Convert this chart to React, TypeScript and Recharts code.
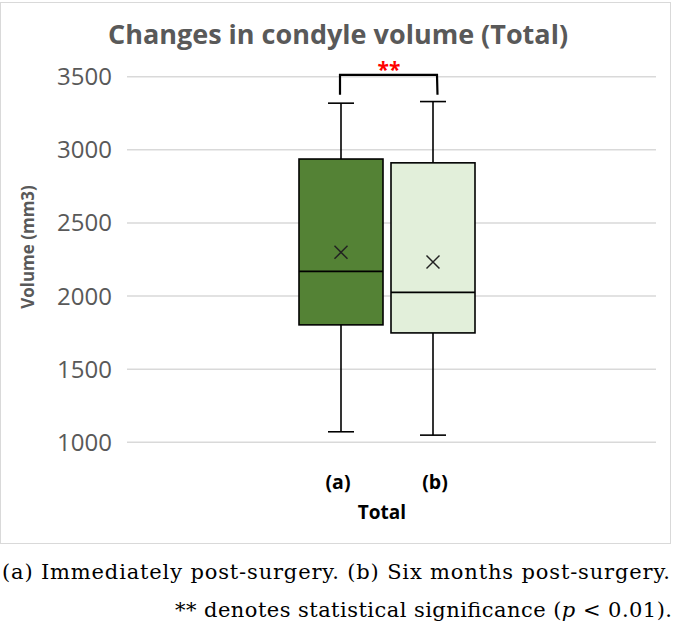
import React from "react";
import { ComposedChart, Bar, XAxis, YAxis, CartesianGrid } from "recharts";

// ---------- data ----------
const categories = ["Total"];
const seriesNames = ["(a)", "(b)"];
// box statistics: [min, Q1, median, mean, Q3, max]
const statsA = [1072, 1803, 2169, 2299, 2937, 3319];
const statsB = [1049, 1748, 2025, 2233, 2911, 3330];
const yTicks = [1000, 1500, 2000, 2500, 3000, 3500];
const yDomain = [1000, 3500];
// significance bracket: [top level, bottom level]
const bracketLevels = [3512, 3376];
const sigLabel = "**";
const chartTitle = "Changes in condyle volume (Total)";
const yTitle = "Volume (mm3)";
const caption1 = "(a) Immediately post-surgery. (b) Six months post-surgery.";
const caption2Parts = ["** denotes statistical significance (", "p", " < 0.01)."];

// ---------- styles ----------
const BAR_SIZE = 84;
const BAR_GAP = 8;
const SANS = "'Open Sans', sans-serif";
const GREY = "#595959";

const data = categories.map((name) => ({
  name,
  a: [statsA[0], statsA[5]],
  b: [statsB[0], statsB[5]],
}));

function BoxShape(props: any) {
  const { x, y, width, height, stats, fill, withBracket } = props;
  const top = Math.min(y, y + height);
  const h = Math.abs(height);
  const [mn, q1, med, mean, q3, mx] = stats;
  const py = (v: number) => top + (h * (mx - v)) / (mx - mn);
  const cx = x + width / 2;
  const cap = 13;
  const m = 6.5;
  const sw = 1.6;
  const parts: any[] = [];
  parts.push(
    <line key="wt" x1={cx} x2={cx} y1={py(mx)} y2={py(q3)} stroke="#000" strokeWidth={sw} />,
    <line key="wb" x1={cx} x2={cx} y1={py(q1)} y2={py(mn)} stroke="#000" strokeWidth={sw} />,
    <line key="ct" x1={cx - cap} x2={cx + cap} y1={py(mx)} y2={py(mx)} stroke="#000" strokeWidth={sw} />,
    <line key="cb" x1={cx - cap} x2={cx + cap} y1={py(mn)} y2={py(mn)} stroke="#000" strokeWidth={sw} />,
    <rect key="box" x={x} y={py(q3)} width={width} height={py(q1) - py(q3)} fill={fill} stroke="#000" strokeWidth={sw} />,
    <line key="med" x1={x} x2={x + width} y1={py(med)} y2={py(med)} stroke="#000" strokeWidth={sw} />,
    <line key="m1" x1={cx - m} x2={cx + m} y1={py(mean) - m} y2={py(mean) + m} stroke="#222" strokeWidth={1.5} />,
    <line key="m2" x1={cx - m} x2={cx + m} y1={py(mean) + m} y2={py(mean) - m} stroke="#222" strokeWidth={1.5} />
  );
  if (withBracket) {
    const leftX = cx - (BAR_SIZE + BAR_GAP);
    const rightX = cx + 4;
    const yt = py(bracketLevels[0]);
    const yb = py(bracketLevels[1]);
    parts.push(
      <polyline
        key="br"
        points={`${leftX - 1},${yb} ${leftX - 1},${yt} ${rightX},${yt} ${rightX + 0.5},${yb}`}
        fill="none"
        stroke="#000"
        strokeWidth={2.2}
      />,
      <text
        key="sig"
        x={(leftX + rightX) / 2}
        y={yt + 2}
        textAnchor="middle"
        fill="#FF0000"
        fontFamily={SANS}
        fontWeight={700}
        fontSize={21}
      >
        {sigLabel}
      </text>
    );
  }
  return <g>{parts}</g>;
}

function GroupTick(props: any) {
  const { x, y, payload } = props;
  const step = (BAR_SIZE + BAR_GAP) / 2;
  return (
    <g>
      {seriesNames.map((s, i) => (
        <text
          key={s}
          x={x + (i === 0 ? -step - 3 : step + 2)}
          y={y + 47}
          textAnchor="middle"
          fill="#000"
          fontFamily={SANS}
          fontWeight={700}
          fontSize={19.5}
        >
          {s}
        </text>
      ))}
      <text x={x - 5} y={y + 77} textAnchor="middle" fill="#000" fontFamily={SANS} fontWeight={700} fontSize={19}>
        {payload.value}
      </text>
    </g>
  );
}

export default function App() {
  return (
    <div style={{ position: "absolute", left: 0, top: 0, width: 685, height: 634, background: "#fff", overflow: "hidden" }}>
      <div
        style={{
          position: "absolute",
          left: 0,
          top: 1.5,
          width: 671,
          height: 542.5,
          border: "1.5px solid #d9d9d9",
          boxSizing: "border-box",
        }}
      />
      <div style={{ position: "absolute", left: 0, top: 2 }}>
        <ComposedChart
          width={670}
          height={541}
          data={data}
          margin={{ top: 74.7, right: 14, bottom: 30.7, left: 0 }}
          barSize={BAR_SIZE}
          barGap={BAR_GAP}
        >
          <CartesianGrid vertical={false} stroke="#d9d9d9" strokeWidth={1.4} />
          <XAxis
            dataKey="name"
            axisLine={false}
            tickLine={false}
            tickSize={0}
            tickMargin={0}
            height={70}
            interval={0}
            padding={{ left: 0, right: 9 }}
            tick={<GroupTick />}
          />
          <YAxis
            domain={yDomain}
            ticks={yTicks}
            type="number"
            width={127}
            axisLine={false}
            tickLine={false}
            tickSize={0}
            tickMargin={15}
            tick={{ fill: GREY, fontSize: 24, fontFamily: SANS }}
          />
          <Bar
            dataKey="a"
            name={seriesNames[0]}
            fill="#548235"
            isAnimationActive={false}
            shape={(p: any) => <BoxShape {...p} stats={statsA} fill="#548235" />}
          />
          <Bar
            dataKey="b"
            name={seriesNames[1]}
            fill="#E2EFDA"
            isAnimationActive={false}
            shape={(p: any) => <BoxShape {...p} stats={statsB} fill="#E2EFDA" withBracket />}
          />
        </ComposedChart>
      </div>
      <svg width={685} height={634} style={{ position: "absolute", left: 0, top: 0, pointerEvents: "none" }}>
        <text x={338} y={44} textAnchor="middle" fill={GREY} fontFamily={SANS} fontWeight={700} fontSize={27}>
          {chartTitle}
        </text>
        <text
          transform="translate(34,247) rotate(-90)"
          textAnchor="middle"
          fill={GREY}
          fontFamily={SANS}
          fontWeight={700}
          fontSize={17}
        >
          {yTitle}
        </text>
        <text x={2} y={579} textLength={668} lengthAdjust="spacing" fill="#000" fontFamily="'DejaVu Serif', serif" fontSize={21}>
          {caption1}
        </text>
        <text x={175} y={617} textLength={497} lengthAdjust="spacing" fill="#000" fontFamily="'DejaVu Serif', serif" fontSize={21}>
          {caption2Parts[0]}
          <tspan fontStyle="italic">{caption2Parts[1]}</tspan>
          {caption2Parts[2]}
        </text>
      </svg>
    </div>
  );
}
